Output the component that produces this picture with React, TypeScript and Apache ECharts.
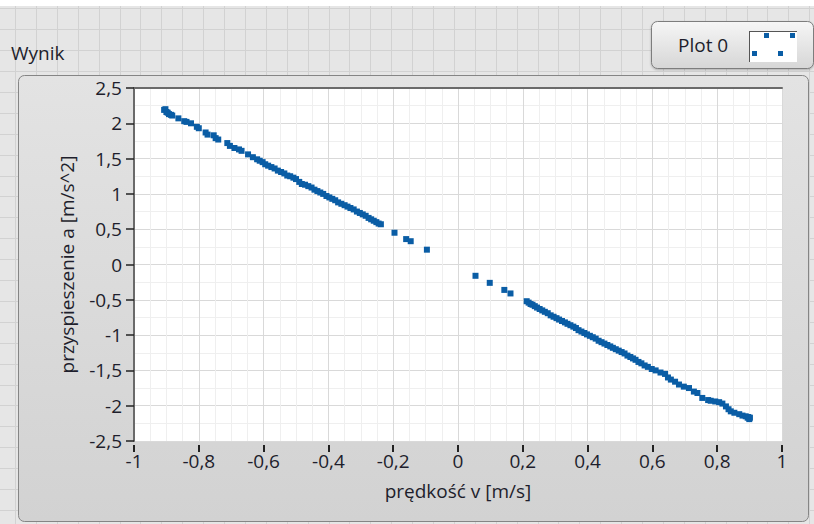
import React, { useEffect, useRef } from "react";
import * as echarts from "echarts";

const chartTitle = "Wynik";
const seriesName = "Plot 0";
const xAxisName = "prędkość v [m/s]";
const yAxisName = "przyspieszenie a [m/s^2]";
const xMin = -1;
const xMax = 1;
const xStep = 0.2;
const yMin = -2.5;
const yMax = 2.5;
const yStep = 0.5;

// [v, a] points
const upperBranch: [number, number][] = [
  [-0.907, 2.19], [-0.903, 2.2], [-0.9, 2.16], [-0.896, 2.15], [-0.892, 2.13], [-0.886, 2.12],
  [-0.882, 2.11], [-0.863, 2.07], [-0.845, 2.03], [-0.838, 2.02], [-0.824, 2.0], [-0.806, 1.95],
  [-0.8, 1.93], [-0.779, 1.87], [-0.773, 1.84], [-0.754, 1.83], [-0.748, 1.79], [-0.74, 1.77],
  [-0.712, 1.72], [-0.704, 1.68], [-0.69, 1.65], [-0.676, 1.63], [-0.668, 1.61], [-0.648, 1.56],
  [-0.633, 1.52], [-0.62, 1.49], [-0.612, 1.47], [-0.603, 1.45], [-0.595, 1.42], [-0.586, 1.4],
  [-0.576, 1.38], [-0.566, 1.36], [-0.556, 1.33], [-0.546, 1.31], [-0.536, 1.29], [-0.527, 1.26],
  [-0.518, 1.25], [-0.508, 1.23], [-0.5, 1.21], [-0.49, 1.17], [-0.482, 1.14], [-0.472, 1.13],
  [-0.462, 1.11], [-0.452, 1.09], [-0.443, 1.06], [-0.434, 1.04], [-0.425, 1.02], [-0.416, 1.0],
  [-0.406, 0.97], [-0.397, 0.95], [-0.388, 0.93], [-0.379, 0.91], [-0.37, 0.88], [-0.36, 0.86],
  [-0.35, 0.84], [-0.341, 0.82], [-0.332, 0.8], [-0.322, 0.78], [-0.312, 0.75], [-0.303, 0.73],
  [-0.294, 0.71], [-0.285, 0.69], [-0.276, 0.66], [-0.268, 0.64], [-0.26, 0.62], [-0.252, 0.6],
  [-0.245, 0.58], [-0.238, 0.57],
];

const middlePoints: [number, number][] = [
  [-0.196, 0.45], [-0.16, 0.36], [-0.146, 0.33], [-0.096, 0.21],
  [0.054, -0.16], [0.098, -0.26], [0.143, -0.36], [0.162, -0.41],
];

const lowerBranch: [number, number][] = [
  [0.212, -0.52], [0.218, -0.54], [0.224, -0.56], [0.23, -0.57], [0.237, -0.59], [0.244, -0.61],
  [0.252, -0.63], [0.26, -0.65], [0.268, -0.67], [0.277, -0.69], [0.286, -0.72], [0.295, -0.74],
  [0.304, -0.76], [0.312, -0.78], [0.321, -0.8], [0.33, -0.82], [0.338, -0.84], [0.347, -0.86],
  [0.356, -0.88], [0.364, -0.9], [0.372, -0.93], [0.381, -0.95], [0.39, -0.97], [0.398, -0.99],
  [0.407, -1.01], [0.416, -1.03], [0.425, -1.05], [0.434, -1.08], [0.443, -1.1], [0.452, -1.12],
  [0.461, -1.14], [0.47, -1.16], [0.478, -1.18], [0.487, -1.2], [0.496, -1.22], [0.505, -1.24],
  [0.514, -1.26], [0.523, -1.29], [0.532, -1.31], [0.54, -1.33], [0.548, -1.35], [0.557, -1.38],
  [0.566, -1.4], [0.576, -1.43], [0.586, -1.45], [0.598, -1.48], [0.61, -1.5], [0.625, -1.53],
  [0.639, -1.55], [0.648, -1.6], [0.657, -1.63], [0.67, -1.66], [0.682, -1.7], [0.697, -1.73],
  [0.713, -1.75], [0.728, -1.8], [0.739, -1.82], [0.754, -1.89], [0.772, -1.92], [0.78, -1.93],
  [0.794, -1.94], [0.806, -1.95], [0.816, -1.97], [0.827, -2.01], [0.835, -2.05], [0.842, -2.08],
  [0.853, -2.1], [0.868, -2.12], [0.878, -2.14], [0.888, -2.15], [0.894, -2.17], [0.899, -2.19],
  [0.896, -2.16], [0.901, -2.17],
];

const FONT = "'Open Sans', 'Noto Sans', sans-serif";
const TEXT = "#1e1e2c";
const BLUE = "#0a5da5";

const fmt = (v: number) => String(Math.round(v * 100) / 100).replace(".", ",");

function buildGraphics(): any[] {
  const els: any[] = [];
  els.push({ type: "rect", z: -30, silent: true, shape: { x: 0, y: 0, width: 814, height: 524 }, style: { fill: "#ffffff" } });
  els.push({ type: "rect", z: -29, silent: true, shape: { x: 0, y: 6, width: 814, height: 518 }, style: { fill: "#e6e6e6" } });
  for (let k = 0; k < 40; k++) {
    const x = Math.round(15 + 20.9 * k) + 0.5;
    els.push({ type: "line", z: -28, silent: true, shape: { x1: x, y1: 6, x2: x, y2: 524 }, style: { stroke: "#d2d2d2", lineWidth: 1 } });
  }
  for (let k = 0; k < 26; k++) {
    const y = Math.round(8.3 + 20.9 * k) + 0.5;
    els.push({ type: "line", z: -28, silent: true, shape: { x1: 0, y1: y, x2: 814, y2: y }, style: { stroke: "#d2d2d2", lineWidth: 1 } });
  }
  // main panel
  els.push({
    type: "rect", z: -20, silent: true,
    shape: { x: 18.5, y: 75.5, width: 790, height: 446, r: 6 },
    style: {
      fill: new echarts.graphic.LinearGradient(0, 0, 0, 1, [
        { offset: 0, color: "#e3e3e3" },
        { offset: 1, color: "#d2d2d2" },
      ]),
      stroke: "#858585", lineWidth: 1,
    },
  });
  // title label
  els.push({ type: "text", z: 10, silent: true, style: { x: 11, y: 53, text: chartTitle, fontSize: 19, fontFamily: FONT, fill: TEXT, verticalAlign: "middle" } });
  // legend
  els.push({
    type: "rect", z: 10, silent: true,
    shape: { x: 651.5, y: 21.5, width: 162, height: 47, r: 6 },
    style: {
      fill: new echarts.graphic.LinearGradient(0, 0, 0, 1, [
        { offset: 0, color: "#f6f6f6" },
        { offset: 1, color: "#d6d6d6" },
      ]),
      stroke: "#7d7d7d", lineWidth: 1,
      shadowBlur: 2, shadowColor: "rgba(0,0,0,0.25)", shadowOffsetY: 1,
    },
  });
  els.push({ type: "text", z: 11, silent: true, style: { x: 678, y: 45, text: seriesName, fontSize: 19, fontFamily: FONT, fill: TEXT, verticalAlign: "middle" } });
  els.push({ type: "rect", z: 11, silent: true, shape: { x: 749, y: 31, width: 48, height: 31 }, style: { fill: "#ffffff" } });
  els.push({ type: "line", z: 12, silent: true, shape: { x1: 749, y1: 31.5, x2: 797, y2: 31.5 }, style: { stroke: "#555", lineWidth: 1 } });
  els.push({ type: "line", z: 12, silent: true, shape: { x1: 749.5, y1: 31, x2: 749.5, y2: 62 }, style: { stroke: "#555", lineWidth: 1 } });
  const marks = [[764, 33], [790, 33], [752, 51], [778, 51]];
  marks.forEach(([x, y]) => {
    els.push({ type: "rect", z: 12, silent: true, shape: { x, y, width: 5, height: 5 }, style: { fill: BLUE } });
  });
  return els;
}

export default function App() {
  const ref = useRef<HTMLDivElement>(null);
  useEffect(() => {
    if (!ref.current) return;
    const chart = echarts.init(ref.current, undefined, { renderer: "svg" });
    const labelStyle = { fontSize: 19, fontFamily: FONT, color: TEXT };
    chart.setOption({
      animation: false,
      graphic: buildGraphics(),
      grid: {
        left: 134, top: 88, width: 648, height: 353,
        show: true, backgroundColor: "#ffffff", borderWidth: 0,
      },
      xAxis: [
        {
          type: "value", min: xMin, max: xMax, interval: xStep, position: "bottom", offset: 4,
          axisLine: { show: false, onZero: false },
          axisTick: { show: true, length: 7, lineStyle: { color: "#222", width: 2 } },
          axisLabel: { ...labelStyle, margin: 6, formatter: (v: number) => fmt(v) },
          splitLine: { show: true, lineStyle: { color: "#d9d9d9", width: 1 } },
          minorTick: { show: false, splitNumber: 4 },
          minorSplitLine: { show: true, lineStyle: { color: "#efefef", width: 1 } },
          name: xAxisName, nameLocation: "middle", nameGap: 36,
          nameTextStyle: { ...labelStyle },
        },
        {
          type: "value", min: xMin, max: xMax, position: "top",
          axisLine: { show: true, onZero: false, lineStyle: { color: "#6a6a6a", width: 2 } },
          axisTick: { show: false }, axisLabel: { show: false }, splitLine: { show: false },
        },
      ],
      yAxis: {
        type: "value", min: yMin, max: yMax, interval: yStep, position: "left",
        axisLine: { show: true, onZero: false, lineStyle: { color: "#6a6a6a", width: 2 } },
        axisTick: { show: true, length: 8, lineStyle: { color: "#222", width: 1.5 } },
        axisLabel: { ...labelStyle, margin: 12, formatter: (v: number) => fmt(v) },
        splitLine: { show: true, lineStyle: { color: "#d9d9d9", width: 1 } },
        minorTick: { show: false, splitNumber: 2 },
        minorSplitLine: { show: true, lineStyle: { color: "#efefef", width: 1 } },
        name: yAxisName, nameLocation: "middle", nameGap: 58, nameRotate: 90,
        nameTextStyle: { ...labelStyle },
      },
      series: [
        {
          name: seriesName, type: "scatter", symbol: "rect", symbolSize: 6,
          itemStyle: { color: BLUE, opacity: 1 },
          data: [...upperBranch, ...middlePoints, ...lowerBranch],
        },
      ],
    });
    return () => chart.dispose();
  }, []);
  return <div ref={ref} style={{ position: "absolute", left: 0, top: 0, width: 814, height: 524 }} />;
}
